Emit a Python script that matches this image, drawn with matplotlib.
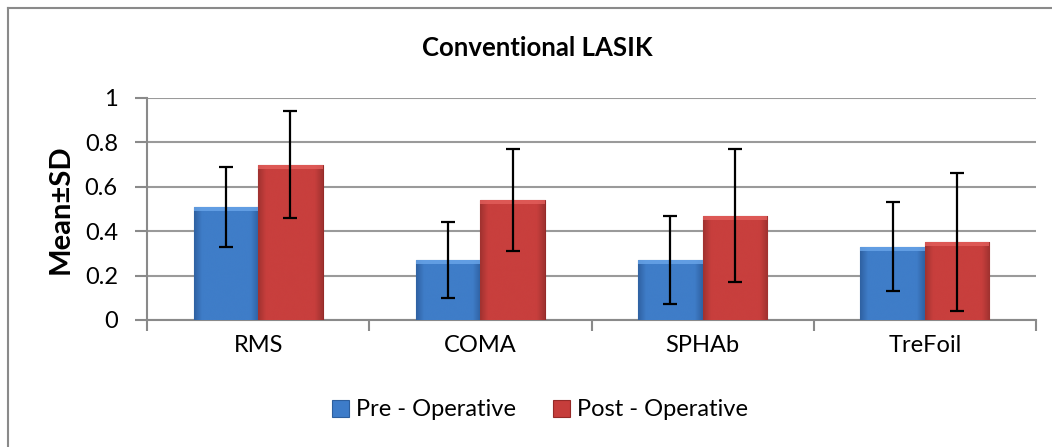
import numpy as np
import matplotlib.pyplot as plt
from matplotlib.lines import Line2D
from matplotlib.colors import LinearSegmentedColormap

categories = ["RMS", "COMA", "SPHAb", "TreFoil"]
pre_mean = [0.51, 0.27, 0.27, 0.33]
pre_sd = [0.18, 0.17, 0.20, 0.20]
post_mean = [0.70, 0.54, 0.47, 0.35]
post_sd = [0.24, 0.23, 0.30, 0.31]

plt.rcParams['font.family'] = ['Lato', 'DejaVu Sans']

fig = plt.figure(figsize=(10.52, 4.47), dpi=100)
ax = fig.add_axes([147/1052, 1-320/447, (1036-147)/1052, (320-98)/447])

# outer chart frame (only left/top visible in the reference)
fig.add_artist(Line2D([8/1052, 8/1052], [0, 1-8/447], color="#8a8a8a", lw=1.5))
fig.add_artist(Line2D([8/1052, 1], [1-8/447, 1-8/447], color="#8a8a8a", lw=1.5))

x = np.arange(len(categories))
w = 0.29
blue = "#3d7cc9"
red = "#c63d3b"


def shade(bars, light, mid, dark):
    # flat face with darker bevelled sides
    cmap = LinearSegmentedColormap.from_list(
        "g", [(0, dark), (0.12, mid), (0.5, mid), (0.88, mid), (1, dark)])
    grad = np.linspace(0, 1, 64).reshape(1, -1)
    for b in bars:
        bx, by = b.get_x(), b.get_y()
        bw, bh = b.get_width(), b.get_height()
        im = ax.imshow(grad, cmap=cmap, extent=[bx, bx + bw, by, by + bh],
                       aspect="auto", zorder=3, interpolation="bicubic")
        im.set_clip_path(b)
        # lighter top bevel
        ax.fill_between([bx, bx + bw], by + bh - 0.018, by + bh, color=light,
                        alpha=0.8, zorder=3.5, lw=0)


b1 = ax.bar(x - w/2, pre_mean, w, color=blue, edgecolor="#2d5f9e", lw=0.8,
            zorder=3, label="Pre - Operative")
b2 = ax.bar(x + w/2, post_mean, w, color=red, edgecolor="#952a28", lw=0.8,
            zorder=3, label="Post - Operative")
shade(b1, "#6aa6ea", "#3f7dc8", "#2f62a3")
shade(b2, "#e35f5c", "#c83f3d", "#a13230")

ax.errorbar(x - w/2, pre_mean, yerr=pre_sd, fmt="none", ecolor="black",
            elinewidth=1.6, capsize=5, capthick=1.6, zorder=4)
ax.errorbar(x + w/2, post_mean, yerr=post_sd, fmt="none", ecolor="black",
            elinewidth=1.6, capsize=5, capthick=1.6, zorder=4)

ax.set_xlim(-0.5, len(categories) - 0.5)
ax.set_ylim(0, 1)
ax.set_yticks(np.arange(0, 1.01, 0.2))
ax.set_yticklabels(["0", "0.2", "0.4", "0.6", "0.8", "1"])
ax.yaxis.grid(True, color="#9a9a9a", lw=1.5, zorder=0)
ax.set_axisbelow(True)

ax.set_xticks(x)
ax.set_xticklabels(categories)
ax.set_xticks(np.arange(-0.5, len(categories)), minor=True)
ax.tick_params(axis="x", which="major", length=0, pad=11, labelsize=17)
ax.tick_params(axis="x", which="minor", length=8, width=1.5, color="#8a8a8a")
ax.tick_params(axis="y", length=9, width=1.5, color="#8a8a8a", pad=12, labelsize=17)

for s in ["top", "right"]:
    ax.spines[s].set_visible(False)
for s in ["left", "bottom"]:
    ax.spines[s].set_color("#8a8a8a")
    ax.spines[s].set_linewidth(1.5)

ax.set_ylabel("Mean±SD", fontsize=21, fontweight="bold", labelpad=8)
fig.text(537/1052, 1-48/447, "Conventional LASIK", ha="center", va="center",
         fontsize=18.5, fontweight="bold")

fig.legend(loc="center", bbox_to_anchor=(540/1052, 1-410/447), ncol=2,
           frameon=False, fontsize=17, handlelength=0.7, handleheight=0.7,
           columnspacing=1.6, handletextpad=0.3)

fig.savefig("out.png", dpi=100)
